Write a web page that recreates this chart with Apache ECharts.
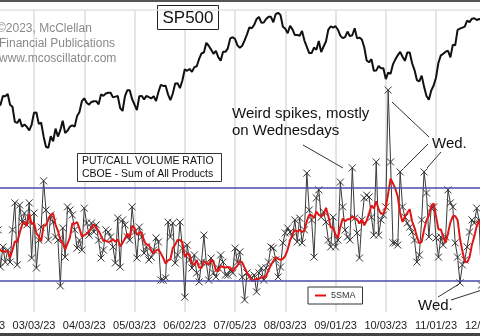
<!DOCTYPE html>
<html><head><meta charset="utf-8">
<script src="https://cdn.jsdelivr.net/npm/echarts@6/dist/echarts.min.js"></script>
<style>html,body{margin:0;padding:0;background:#fff}#c{width:480px;height:336px}</style>
</head><body><div id="c"></div>
<script>
// ---- data ----
const tickLabels = ["02/01/23","03/03/23","04/03/23","05/03/23","06/02/23","07/05/23","08/03/23","09/01/23","10/03/23","11/01/23","12/01/23"];
const holidays = ['2023-02-20','2023-04-07','2023-05-29','2023-06-19','2023-07-04','2023-09-04','2023-11-23'];

const sp500 = [4119,4180,4136,4111,4164,4118,4082,4090,4137,4136,4148,4090,4079,3997,3991,4012,3970,3982,3970,3951,3981,4046,
4048,3986,3992,3918,3862,3856,3919,3892,3960,3917,3952,4003,3937,3949,3971,3978,3971,4028,4051,4109,4125,
4101,4090,4105,4109,4109,4092,4146,4138,4151,4155,4155,4130,4134,4137,4072,4056,4135,4169,4168,4120,4091,
4061,4136,4138,4119,4138,4131,4124,4136,4110,4159,4198,4192,4193,4146,4115,4151,4205,4206,4180,4221,4282,
4274,4284,4268,4294,4299,4339,4369,4373,4426,4410,4389,4366,4382,4348,4329,4378,4377,4396,4450,4456,4447,
4412,4399,4410,4439,4472,4510,4505,4523,4555,4566,4535,4536,4555,4567,4567,4537,4582,4589,4577,4513,4502,
4478,4518,4499,4468,4469,4464,4490,4438,4404,4370,4370,4400,4388,4436,4376,4406,4433,4498,4515,4508,4516,
4497,4465,4451,4457,4487,4462,4467,4505,4450,4454,4444,4402,4330,4320,4337,4274,4275,4300,4288,4288,4229,
4264,4258,4309,4336,4358,4377,4350,4328,4374,4373,4315,4278,4224,4217,4248,4187,4137,4117,4167,4194,4238,
4318,4358,4366,4378,4383,4347,4415,4412,4496,4503,4508,4514,4547,4538,4557,4559,4550,4555,4551,4568,4595];

const putCall = [null,null,0.884,0.932,0.852,0.900,0.965,0.845,0.910,0.861,
0.900,0.861,0.965,1.052,0.852,1.045,0.990,1.019,0.981,1.052,
0.874,1.019,0.842,0.932,0.974,1.123,1.029,0.932,1.013,0.990,
0.942,0.932,0.784,0.971,0.877,1.039,1.029,1.013,0.965,0.906,
0.932,0.900,1.035,0.987,0.948,0.987,0.958,0.981,0.932,0.874,
0.900,0.965,0.958,0.942,0.910,0.858,1.003,0.845,0.997,0.981,
0.942,0.932,1.039,0.958,0.874,0.974,0.942,0.890,0.910,0.868,
0.877,0.900,0.939,0.926,0.803,0.803,0.810,0.990,0.942,0.987,
0.858,0.884,0.990,0.906,0.748,0.916,0.868,0.842,0.884,0.826,
0.797,0.861,0.948,0.858,0.803,0.874,0.826,0.813,0.842,0.884,
0.861,0.819,0.819,0.835,0.826,0.906,0.861,0.894,0.813,0.739,
0.826,0.813,0.810,0.819,0.765,0.826,0.842,0.803,0.842,0.861,
0.910,0.906,0.868,0.813,0.845,0.923,0.955,0.971,0.958,0.942,
0.997,0.926,1.003,0.923,0.965,1.148,1.029,0.997,0.877,1.068,
1.094,1.006,1.023,0.990,0.932,0.910,1.006,0.910,0.932,1.119,
1.039,0.965,0.942,0.932,1.165,1.003,0.955,0.874,0.997,1.068,
1.077,1.071,1.006,0.948,1.184,0.948,0.997,1.013,1.039,1.416,
1.184,0.923,0.923,0.916,1.152,1.039,1.006,0.987,0.974,0.958,
0.932,0.861,0.884,0.997,1.152,1.084,0.942,1.035,1.039,0.939,
0.877,0.942,0.916,0.942,1.094,1.052,1.039,0.923,0.877,0.794,
0.852,0.868,0.910,0.958,0.997,0.987,1.035,0.997,0.787,0.965,0.932];

const bandLevels = [1.1, 0.8];

// ---- derived ----
const categories = [];
for (let d = new Date(Date.UTC(2023,1,1)); categories.length < sp500.length; d.setUTCDate(d.getUTCDate()+1)) {
  const dow = d.getUTCDay(); const iso = d.toISOString().slice(0,10);
  if (dow === 0 || dow === 6 || holidays.includes(iso)) continue;
  categories.push(iso.slice(5,7) + '/' + iso.slice(8,10) + '/' + iso.slice(2,4));
}
const sma5 = putCall.map((v, i) => {
  if (i < 4) return null;
  const w = putCall.slice(i-4, i+1);
  if (w.some(x => x == null)) return null;
  return +(w.reduce((a,b)=>a+b,0)/5).toFixed(4);
});

const FONT = '"Liberation Sans", Arial, sans-serif';
const chart = echarts.init(document.getElementById('c'), null, {renderer:'canvas'});
const txt = (x, y, text, size, fill, extra) => ({type:'text', x, y, z:50, silent:true,
  style: Object.assign({text, fontSize:size, fontFamily:FONT, fill, align:'left', verticalAlign:'middle', textAlign:'left', textVerticalAlign:'middle'}, extra||{})});
const ln = (x1,y1,x2,y2,color,w) => ({type:'line', z:50, silent:true, shape:{x1,y1,x2,y2}, style:{stroke:color||'#333', lineWidth:w||1}});

chart.setOption({
  animation:false,
  backgroundColor:'#fff',
  grid:{left:-16.25, right:-6.3, top:10, bottom:24, containLabel:false, outerBoundsMode:'none'},
  legend:{
    data:[{name:'5SMA', icon:'rect'}],
    left:308, top:287, orient:'horizontal',
    padding:[4,7], itemWidth:11, itemHeight:2, itemGap:4,
    borderColor:'#333', borderWidth:1, backgroundColor:'#fff',
    textStyle:{fontSize:9, fontFamily:FONT, color:'#333', padding:[0,0,0,0]}
  },
  xAxis:{
    type:'category', data:categories, boundaryGap:false,
    axisLine:{show:false}, axisTick:{show:false},
    axisLabel:{interval:20, showMinLabel:true, showMaxLabel:true, margin:8, fontSize:11, fontFamily:FONT, color:'#222',
      formatter:(v, i) => tickLabels[Math.round(i/21)] || v},
    splitLine:{show:true, interval:20, lineStyle:{color:'#dcdcdc', width:1.5}}
  },
  yAxis:[
    {type:'value', min:2965, max:4604, show:false, splitLine:{show:false}},
    {type:'value', min:0.7, max:1.6742, show:false, splitLine:{show:false}}
  ],
  series:[
    {name:'SP500', type:'line', yAxisIndex:0, data:sp500, symbol:'none', z:5,
      lineStyle:{color:'#111', width:2}},
    {name:'P/C', type:'line', yAxisIndex:1, data:putCall, z:3,
      symbol:'path://M0,0L10,10M0,10L10,0', symbolSize:7, showAllSymbol:true,
      itemStyle:{color:'rgba(0,0,0,0)', borderColor:'#333', borderWidth:1},
      lineStyle:{color:'#3a3a3a', width:1},
      markLine:{silent:true, symbol:'none', label:{show:false},
        lineStyle:{color:'#4b4bab', width:1.5, type:'solid'},
        data: bandLevels.map(v => ({yAxis:v}))}},
    {name:'5SMA', type:'line', yAxisIndex:1, data:sma5, symbol:'none', z:4,
      itemStyle:{color:'#e01515'}, lineStyle:{color:'#e01515', width:2}}
  ],
  graphic:[
    {type:'rect', z:40, silent:true, shape:{x:0,y:0,width:480,height:2}, style:{fill:'#555'}},
    {type:'rect', z:40, silent:true, shape:{x:0,y:333,width:480,height:3}, style:{fill:'#444'}},
    ln(0,10,480,10,'#e2e2e2',1.5),
    {type:'rect', z:45, silent:true, shape:{x:157.5,y:5.5,width:61,height:24}, style:{fill:'#fff', stroke:'#222', lineWidth:1}},
    txt(188, 18, 'SP500', 17, '#111', {align:'center', textAlign:'center'}),
    txt(-3, 29, '\u00a92023, McClellan', 12, '#8a8a8a'),
    txt(-1, 44, 'Financial Publications', 12, '#8a8a8a'),
    txt(-1, 59, 'www.mcoscillator.com', 12, '#8a8a8a'),
    {type:'rect', z:45, silent:true, shape:{x:77.5,y:153.5,width:144,height:28}, style:{fill:'#fff', stroke:'#333', lineWidth:1}},
    txt(82, 161, 'PUT/CALL VOLUME RATIO', 10.5, '#111'),
    txt(82, 174.5, 'CBOE - Sum of All Products', 10.5, '#111'),
    txt(232, 114, 'Weird spikes, mostly', 15, '#111'),
    txt(232, 131, 'on Wednesdays', 15, '#111'),
    txt(432, 144, 'Wed.', 15, '#111'),
    txt(418, 306, 'Wed.', 15, '#111'),
    ln(303,145,343,168),
    ln(392,102,429,137),
    ln(428,144,404,168),
    ln(441,152,427,168),
    ln(438,297,459,284),
    ln(451,300,482,290)
  ]
});
</script></body></html>
